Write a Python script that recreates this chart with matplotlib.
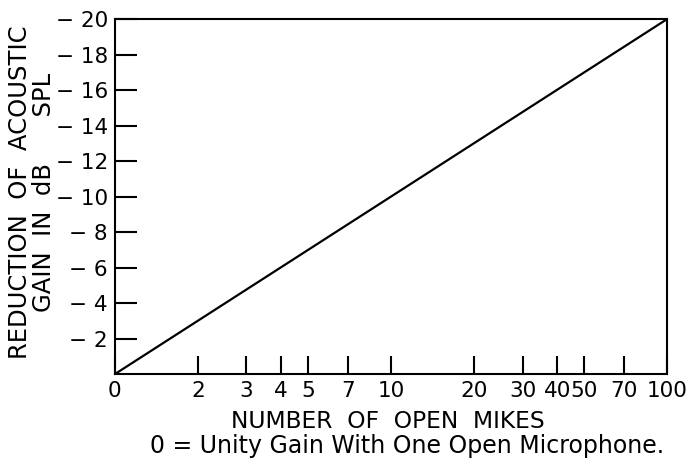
import matplotlib
matplotlib.use('Agg')
import matplotlib.pyplot as plt
from matplotlib.ticker import FixedLocator, FixedFormatter, NullLocator

plt.rcParams['font.family'] = ['DejaVu Sans']

# data: straight line on a log axis
mikes = [1, 100]
reduction = [0, -20]

x_ticks = [1, 2, 3, 4, 5, 7, 10, 20, 30, 40, 50, 70, 100]
x_labels = ['0', '2', '3', '4', '5', '7', '10', '20', '30', '40', '50', '70', '100']
y_ticks = [-2, -4, -6, -8, -10, -12, -14, -16, -18, -20]
y_labels = ['\u2212 ' + str(abs(v)) for v in y_ticks]

fig = plt.figure(figsize=(6.87, 4.66), dpi=100)
ax = fig.add_axes([0.167, 0.197, 0.804, 0.762])

ax.plot(mikes, reduction, color='black', lw=1.6)

ax.set_xscale('log')
ax.set_xlim(1, 100)
ax.set_ylim(0, -20)

ax.xaxis.set_major_locator(FixedLocator(x_ticks))
ax.xaxis.set_major_formatter(FixedFormatter(x_labels))
ax.xaxis.set_minor_locator(NullLocator())
ax.set_yticks(y_ticks)
ax.set_yticklabels(y_labels)

ax.tick_params(axis='x', direction='in', length=13, width=1.5, labelsize=15.5, pad=5)
ax.tick_params(axis='y', direction='in', length=16, width=1.5, labelsize=15.5, pad=5)

for s in ax.spines.values():
    s.set_linewidth(1.5)

# axis titles placed by hand to sit where the original has them
fig.text(0.564, 0.0815, 'NUMBER  OF  OPEN  MIKES', fontsize=16.8,
         ha='center', va='baseline')
fig.text(0.0466, 0.588, 'REDUCTION  OF  ACOUSTIC\nGAIN  IN  dB      SPL', fontsize=17.5,
         rotation=90, ha='center', va='center', multialignment='center',
         linespacing=1.0)
fig.text(0.592, 0.028, '0 = Unity Gain With One Open Microphone.', fontsize=17,
         ha='center', va='baseline')

fig.savefig('out.png', dpi=100)
